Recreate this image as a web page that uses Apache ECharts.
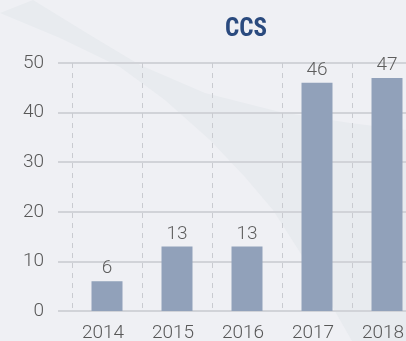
<!DOCTYPE html>
<html>
<head>
<meta charset="utf-8">
<script src="https://cdn.jsdelivr.net/npm/echarts@6/dist/echarts.min.js"></script>
<style>
  html, body { margin: 0; padding: 0; background: #eff0f4; }
  #chart { width: 406px; height: 341px; }
</style>
</head>
<body>
<div id="chart"></div>
<script>
// CCS counts per year
const titleText = 'CCS';
const years = ['2014', '2015', '2016', '2017', '2018'];
const counts = [6, 13, 13, 46, 47];
const yMin = 0;
const yMax = 50;
const yStep = 10;

const labelFont = { fontFamily: 'Roboto, "Liberation Sans", sans-serif', fontWeight: 300, fontSize: 19, color: '#585858' };

// soft diagonal swoosh behind the plot
const swooshUpper = [[33,0],[90,35],[140,65],[205,93],[280,112],[350,123],[406,130]];
const swooshLower = [[352,341],[340,320],[310,268],[273,210],[245,177],[210,140],[165,100],[120,67],[60,38],[0,13]];
const swooshPts = swooshUpper.concat([[406,341]], swooshLower);

const chart = echarts.init(document.getElementById('chart'), null, { renderer: 'canvas' });
chart.setOption({
  backgroundColor: '#eff0f4',
  animation: false,
  graphic: [{
    type: 'polygon',
    z: -10,
    silent: true,
    shape: { points: swooshPts },
    style: { fill: '#e8ebef' }
  }],
  title: {
    text: titleText,
    left: 241,
    top: 12,
    textAlign: 'center',
    textStyle: {
      fontFamily: '"Liberation Sans Narrow", "Roboto Condensed", Roboto, sans-serif',
      fontWeight: 'bold',
      fontSize: 25,
      color: '#2a4a7e'
    }
  },
  grid: [
    { left: 58, width: 364, top: 63, bottom: 30, outerBoundsMode: 'none', containLabel: false },
    { left: 72, width: 350, top: 63, bottom: 30, outerBoundsMode: 'none', containLabel: false }
  ],
  xAxis: [
    { gridIndex: 0, type: 'value', show: false, min: 0, max: 1 },
    {
      gridIndex: 1,
      type: 'category',
      data: years,
      axisLine: { show: false },
      axisTick: { show: false },
      axisLabel: Object.assign({ margin: 13, padding: [0, 8, 0, 0] }, labelFont),
      splitLine: { show: true, lineStyle: { color: '#c9cbd0', width: 1, type: [5, 5] } }
    }
  ],
  yAxis: [
    {
      gridIndex: 0,
      type: 'value',
      min: yMin, max: yMax, interval: yStep,
      axisLine: { show: false },
      axisTick: { show: false },
      axisLabel: Object.assign({ margin: 14 }, labelFont),
      splitLine: { show: true, lineStyle: { color: '#d1d3d8', width: 2 } }
    },
    {
      gridIndex: 1,
      type: 'value',
      min: yMin, max: yMax, interval: yStep,
      show: false
    }
  ],
  series: [{
    type: 'bar',
    xAxisIndex: 1,
    yAxisIndex: 1,
    data: counts,
    barWidth: 31,
    itemStyle: { color: '#91a1ba' },
    label: Object.assign({ show: true, position: 'top', distance: 3 }, labelFont, { color: '#5e5e5e' })
  }]
});
</script>
</body>
</html>
